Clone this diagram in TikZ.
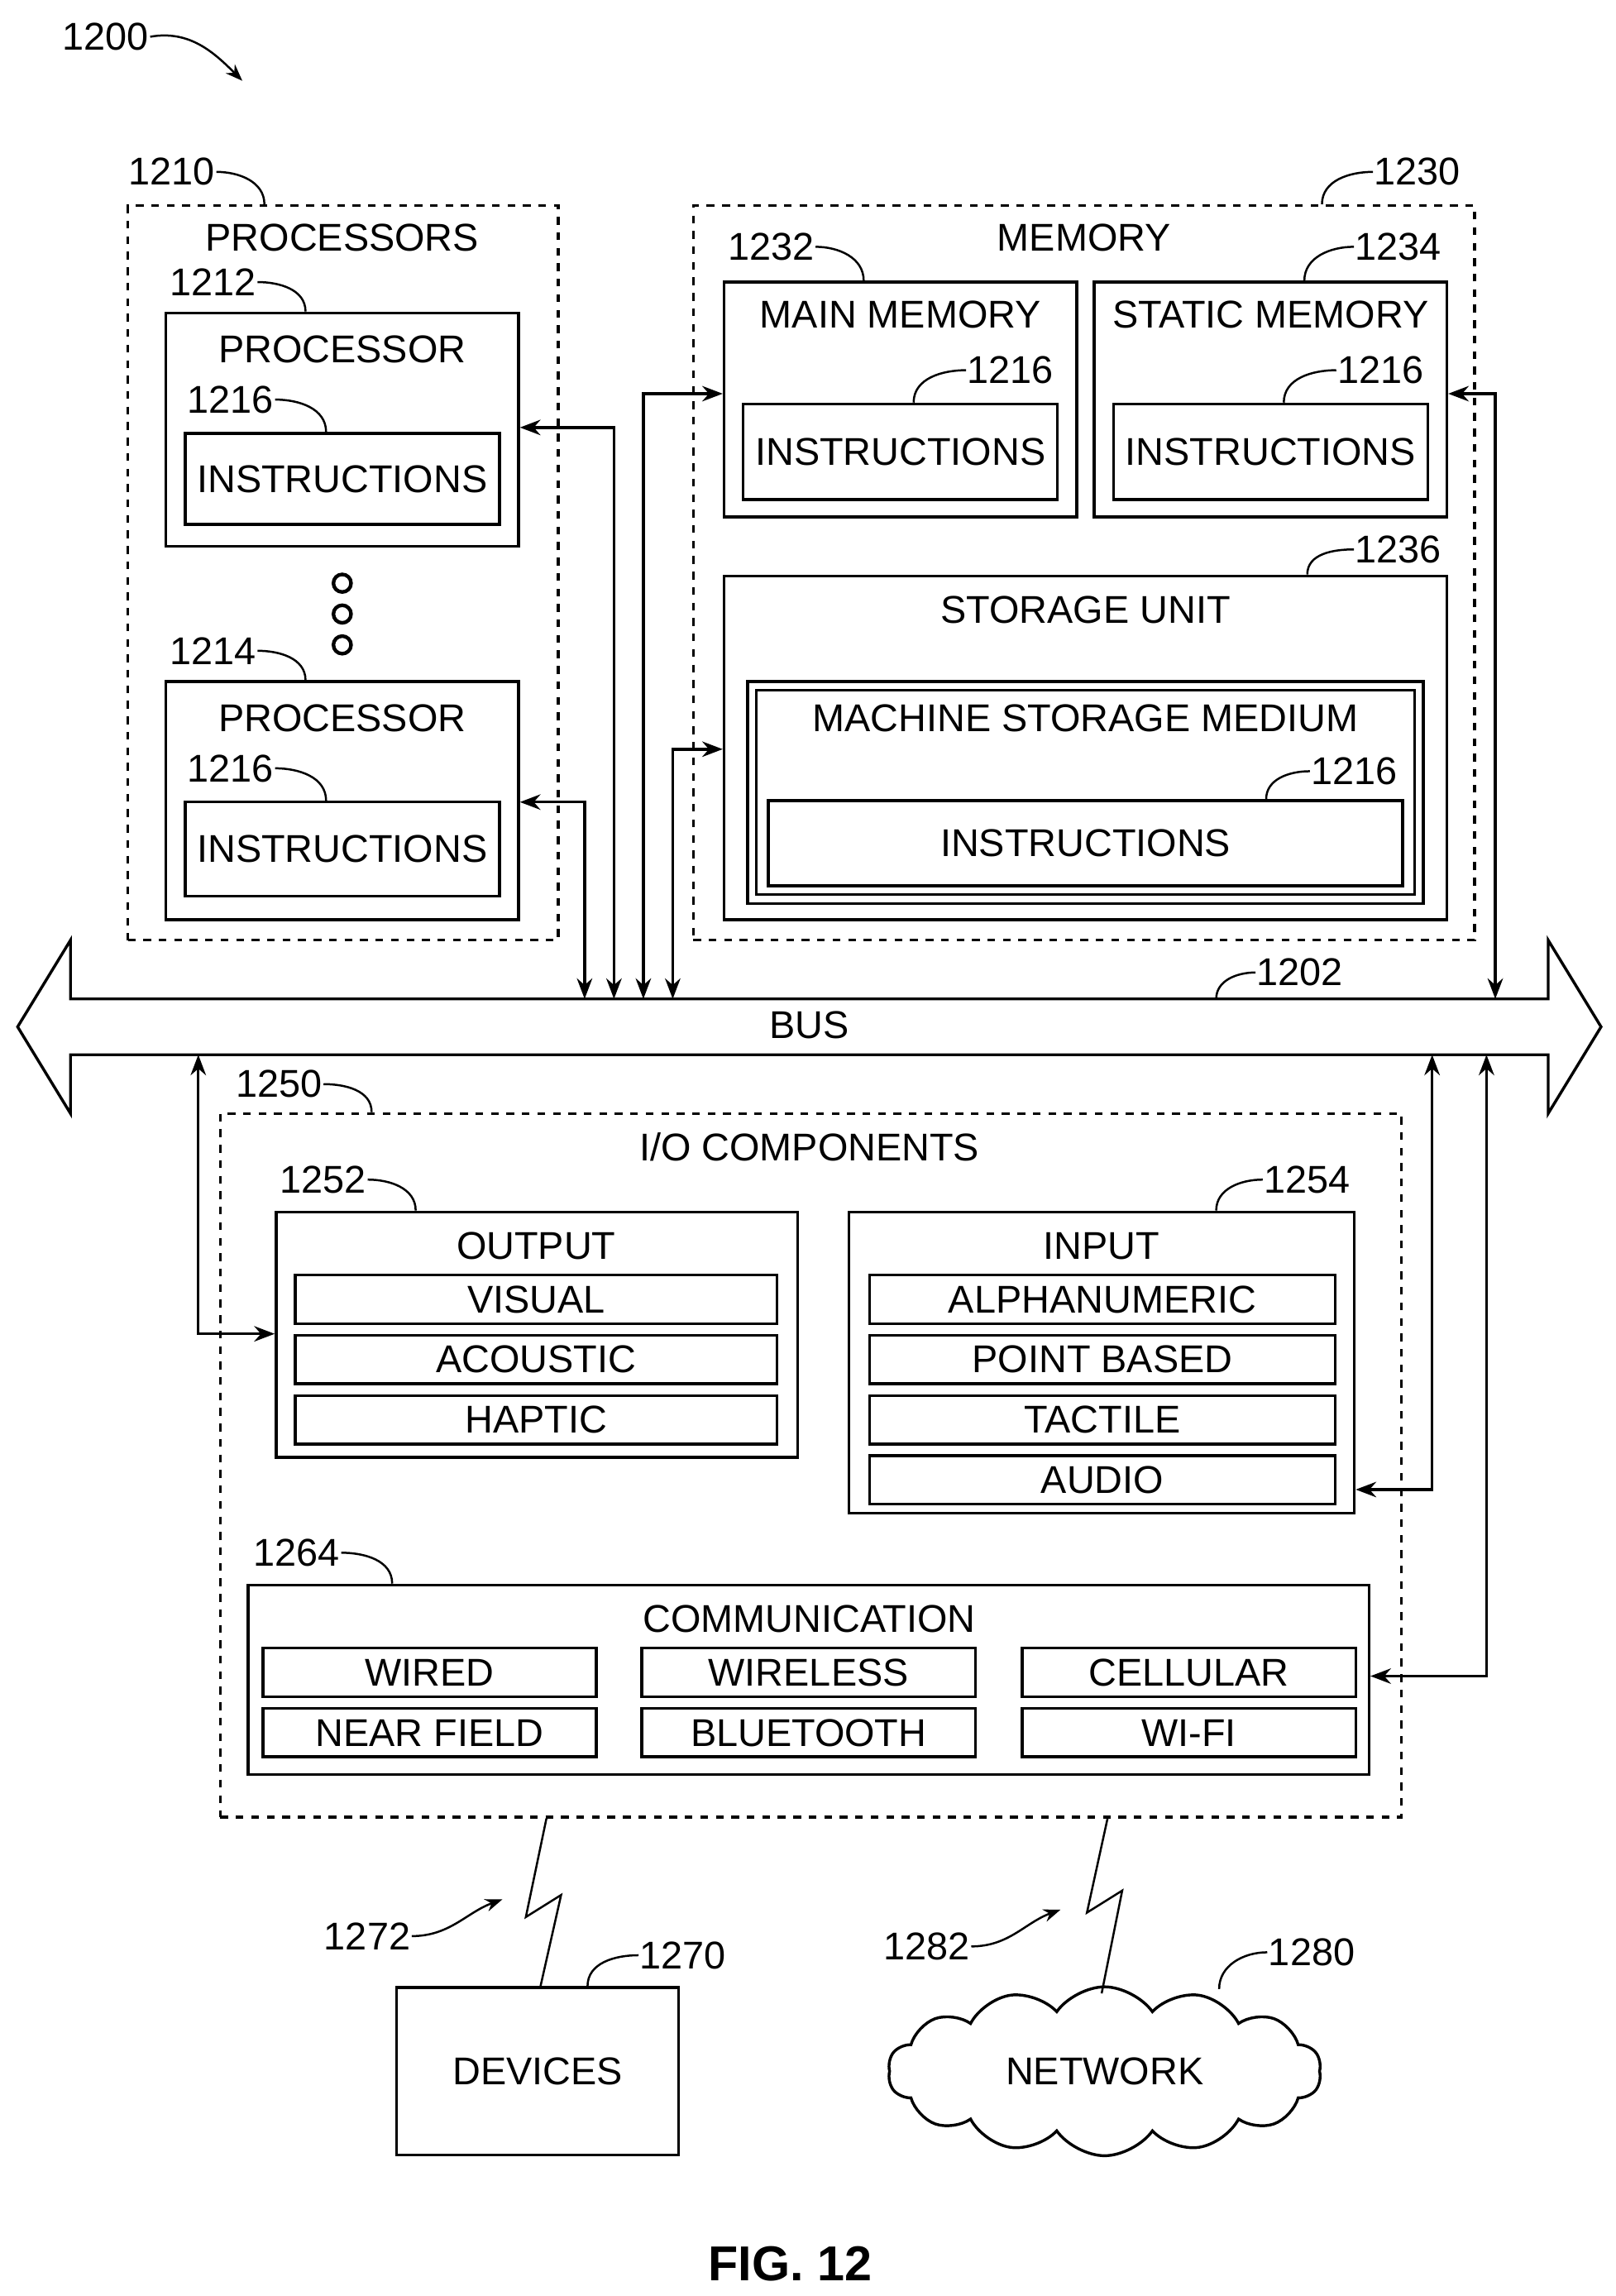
\documentclass[tikz,border=0pt]{standalone}
\usepackage{fontspec}
\setmainfont{Liberation Sans}
\usetikzlibrary{fit,shapes.symbols,arrows.meta}

\begin{document}
\begin{tikzpicture}[x=0.02cm,y=-0.02cm,
    line width=1.1pt,
    font=\fontsize{15}{18}\selectfont,
    frame/.style={draw,dashed,inner sep=0pt},
    box/.style={draw,inner sep=0pt},
    item/.style={draw,inner sep=0pt},
    txt/.style={inner sep=0pt},
    lead/.style={line width=0.8pt},
    link/.style={Stealth-Stealth}]
  \useasboundingbox (0,0) rectangle (1100,1563);

  % figure number
  \node[txt] (fig) at (72,25) {1200};
  \coordinate (figtip) at (165,55);
  \draw[lead,-Stealth] (fig.east) to[out=10,in=135] (figtip);

  % processors
  \node[frame,fit={(87,140)(380,640)}] (procs) {};
  \node[txt] at (233,162) {PROCESSORS};
  \node[txt] (n1210) at (117,117) {1210};
  \draw[lead] (n1210.east) to[out=0,in=90] (procs.north -| 180,0);

  \node[box,fit={(113,213)(353,372)}] (proc1) {};
  \node[txt] at (233,238) {PROCESSOR};
  \node[txt] (n1212) at (145,192) {1212};
  \draw[lead] (n1212.east) to[out=0,in=90] (proc1.north -| 208,0);
  \node[item,fit={(126,295)(340,357)}] (ins1) {};
  \node[txt] at (ins1) {INSTRUCTIONS};
  \node[txt] (n1216a) at (157,272) {1216};
  \draw[lead] (n1216a.east) to[out=0,in=90] (ins1.north -| 222,0);

  \foreach \y in {397,418,439}
    \draw[line width=1.4pt] (233,\y) circle (6);

  \node[box,fit={(113,464)(353,626)}] (proc2) {};
  \node[txt] at (233,489) {PROCESSOR};
  \node[txt] (n1214) at (145,443) {1214};
  \draw[lead] (n1214.east) to[out=0,in=90] (proc2.north -| 208,0);
  \node[item,fit={(126,546)(340,610)}] (ins2) {};
  \node[txt] at (ins2) {INSTRUCTIONS};
  \node[txt] (n1216b) at (157,523) {1216};
  \draw[lead] (n1216b.east) to[out=0,in=90] (ins2.north -| 222,0);

  % memory
  \node[frame,fit={(472,140)(1004,640)}] (mem) {};
  \node[txt] at (738,162) {MEMORY};
  \node[txt] (n1230) at (965,117) {1230};
  \draw[lead] (mem.north -| 900,0) to[out=90,in=180] (n1230.west);

  \node[box,fit={(493,192)(733,352)}] (mainmem) {};
  \node[txt] at (613,214) {MAIN MEMORY};
  \node[txt] (n1232) at (525,168) {1232};
  \draw[lead] (n1232.east) to[out=0,in=90] (mainmem.north -| 588,0);
  \node[item,fit={(506,275)(720,340)}] (ins3) {};
  \node[txt] at (ins3) {INSTRUCTIONS};
  \node[txt] (n1216c) at (688,252) {1216};
  \draw[lead] (ins3.north -| 622,0) to[out=90,in=180] (n1216c.west);

  \node[box,fit={(745,192)(985,352)}] (statmem) {};
  \node[txt] at (865,214) {STATIC MEMORY};
  \node[txt] (n1234) at (952,168) {1234};
  \draw[lead] (statmem.north -| 888,0) to[out=90,in=180] (n1234.west);
  \node[item,fit={(758,275)(972,340)}] (ins4) {};
  \node[txt] at (ins4) {INSTRUCTIONS};
  \node[txt] (n1216d) at (940,252) {1216};
  \draw[lead] (ins4.north -| 874,0) to[out=90,in=180] (n1216d.west);

  \node[box,fit={(493,392)(985,626)}] (storage) {};
  \node[txt] at (739,415) {STORAGE UNIT};
  \node[txt] (n1236) at (952,374) {1236};
  \draw[lead] (storage.north -| 890,0) to[out=90,in=180] (n1236.west);
  \node[box,fit={(509,464)(969,615)}] (medium) {};
  \draw (515,470) rectangle (963,609);
  \node[txt] at (739,489) {MACHINE STORAGE MEDIUM};
  \node[item,fit={(523,545)(955,603)}] (ins5) {};
  \node[txt] at (ins5) {INSTRUCTIONS};
  \node[txt] (n1216e) at (922,525) {1216};
  \draw[lead] (ins5.north -| 862,0) to[out=90,in=180] (n1216e.west);

  % bus
  \draw (48,680) -- (1054,680) -- (1054,640) -- (1090,699) -- (1054,758)
    -- (1054,718) -- (48,718) -- (48,758) -- (12,699) -- (48,640) -- cycle;
  \node[txt] (bus) at (551,698) {BUS};
  \node[txt] (n1202) at (885,662) {1202};
  \draw[lead] (828,680) to[out=90,in=180] (n1202.west);
  \foreach \x/\n in {398/ba,418/bb,438/bc,458/bd,1018/be}
    \coordinate (\n) at (\x,680);
  \foreach \x/\n in {135/bf,975/bg,1012/bh}
    \coordinate (\n) at (\x,718);

  \draw[link] (proc1.east |- 0,291) -| (bb);
  \draw[link] (proc2.east |- 0,546) -| (ba);
  \draw[link] (mainmem.west |- 0,268) -| (bc);
  \draw[link] (storage.west |- 0,510) -| (bd);
  \draw[link] (statmem.east |- 0,268) -| (be);

  % i/o components
  \node[frame,fit={(150,758)(954,1237)}] (io) {};
  \node[txt] at (551,781) {I/O COMPONENTS};
  \node[txt] (n1250) at (190,738) {1250};
  \draw[lead] (n1250.east) to[out=0,in=90] (io.north -| 253,0);

  \node[box,fit={(188,825)(543,992)}] (output) {};
  \node[txt] at (365,848) {OUTPUT};
  \node[txt] (n1252) at (220,803) {1252};
  \draw[lead] (n1252.east) to[out=0,in=90] (output.north -| 283,0);
  \foreach \t/\y in {VISUAL/868,ACOUSTIC/909,HAPTIC/950}{
    \node[item,fit={(201,\y)(529,\y+33)}] (out\t) {};
    \node[txt] at (out\t) {\t};
  }

  \node[box,fit={(578,825)(922,1030)}] (input) {};
  \node[txt] at (750,848) {INPUT};
  \node[txt] (n1254) at (890,803) {1254};
  \draw[lead] (input.north -| 828,0) to[out=90,in=180] (n1254.west);
  \foreach \t/\y/\n in {ALPHANUMERIC/868/a,POINT BASED/909/b,TACTILE/950/c,AUDIO/991/d}{
    \node[item,fit={(592,\y)(909,\y+33)}] (in\n) {};
    \node[txt] at (in\n) {\t};
  }

  \node[box,fit={(169,1079)(932,1208)}] (comm) {};
  \node[txt] at (551,1102) {COMMUNICATION};
  \node[txt] (n1264) at (202,1057) {1264};
  \draw[lead] (n1264.east) to[out=0,in=90] (comm.north -| 267,0);
  \foreach \t/\x/\y/\n in {WIRED/179/1122/a,WIRELESS/437/1122/b,CELLULAR/696/1122/c,
      NEAR FIELD/179/1163/d,BLUETOOTH/437/1163/e,WI-FI/696/1163/f}{
    \node[item,fit={(\x,\y)(\x+227,\y+33)}] (cm\n) {};
    \node[txt] at (cm\n) {\t};
  }

  \draw[link] (bf) |- (output.west |- 0,908);
  \draw[link] (input.east |- 0,1014) -| (bg);
  \draw[link] (comm.east |- 0,1141) -| (bh);

  % devices and network
  \node[box,fit={(270,1353)(462,1467)}] (devices) {};
  \node[txt] at (devices) {DEVICES};
  \node[txt] (n1270) at (465,1331) {1270};
  \draw[lead] (devices.north -| 400,0) to[out=90,in=180] (n1270.west);

  \node[draw,cloud,cloud puffs=14,cloud puff arc=110,aspect=2.6,
        minimum width=5.9cm,minimum height=2.3cm,inner sep=0pt] (network) at (752,1410) {};
  \node[txt] at (network) {NETWORK};
  \node[txt] (n1280) at (893,1329) {1280};
  \draw[lead] (830,1354) to[out=90,in=180] (n1280.west);

  \draw[lead] (io.south -| 372,0) -- (358,1305) -- (382,1290) -- (devices.north -| 368,0);
  \draw[lead] (io.south -| 754,0) -- (740,1302) -- (764,1287) -- (750,1357);

  \node[txt] (n1272) at (250,1318) {1272};
  \coordinate (bolt1) at (342,1293);
  \draw[lead,-Stealth] (n1272.east) to[out=0,in=200] (bolt1);
  \node[txt] (n1282) at (631,1325) {1282};
  \coordinate (bolt2) at (722,1300);
  \draw[lead,-Stealth] (n1282.east) to[out=0,in=200] (bolt2);

  \node[txt,font=\fontsize{19}{22}\selectfont\bfseries] (caption) at (538,1541) {FIG. 12};
\end{tikzpicture}
\end{document}
